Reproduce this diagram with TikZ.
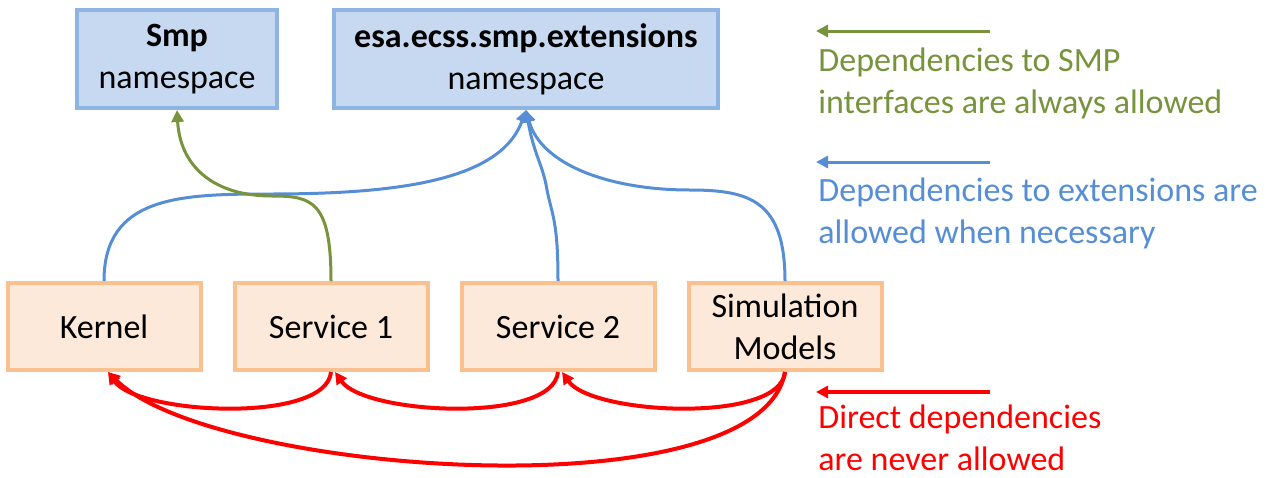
\documentclass[tikz,border=0pt]{standalone}
\usepackage{fontspec}
\setmainfont{Carlito}
\usetikzlibrary{positioning, arrows.meta}

\definecolor{nsfill}{HTML}{C6D9F1}
\definecolor{nsdraw}{HTML}{8EB4E3}
\definecolor{compfill}{HTML}{FDE9D9}
\definecolor{compdraw}{HTML}{FAC090}
\definecolor{smpgreen}{HTML}{77933C}
\definecolor{extblue}{HTML}{558ED5}
\definecolor{badred}{HTML}{FF0000}

\begin{document}
\begin{tikzpicture}[
    x=0.5pt, y=-0.5pt,
    >={Triangle[length=6pt, width=6pt]},
    node distance=113.5pt,
    on grid,
    font=\fontsize{17}{21}\selectfont,
    nsbox/.style={
        draw=nsdraw,
        fill=nsfill,
        line width=2pt,
        align=center,
        minimum height=49pt
    },
    compbox/.style={
        draw=compdraw,
        fill=compfill,
        line width=2pt,
        align=center,
        minimum width=96.5pt,
        minimum height=43.5pt
    },
    dep/.style={->, line width=1.5pt},
    legend/.style={anchor=base west, inner sep=0pt, align=left}
]
\useasboundingbox (0,0) rectangle (1274,477);

% namespaces
\node[nsbox, minimum width=100pt] (smp) at (177,59) {\textbf{Smp}\\namespace};
\node[nsbox, minimum width=192pt] (ext) at (526,59) {\textbf{esa.ecss.smp.extensions}\\namespace};

% components
\node[compbox] (kern) at (104,326.5) {Kernel};
\node[compbox, right=of kern] (serv1) {Service 1};
\node[compbox, right=of serv1] (serv2) {Service 2};
\node[compbox, right=of serv2] (simmod) {Simulation\\Models};

% allowed dependencies
\draw[dep, extblue] (kern.north) .. controls +(0,-85) and +(-90,0) .. (270,194)
    .. controls +(130,0) and +(-25,70) .. (ext.south);
\draw[dep, extblue] (serv2.north) .. controls +(0,-60) and +(5,25) .. (547,190)
    .. controls +(-4,-25) and +(8,45) .. (ext.south);
\draw[dep, extblue] (simmod.north) .. controls +(0,-80) and +(60,0) .. (690,190)
    .. controls +(-80,0) and +(15,55) .. (ext.south);
\draw[dep, smpgreen] (serv1.north) .. controls +(0,-80) and +(40,0) .. (272,196)
    .. controls +(-60,0) and +(3,55) .. (smp.south);

% forbidden dependencies
\begin{scope}[dep/.append style={line width=2pt}]
\draw[dep, badred] (simmod.south) to[out=-95, in=-55, looseness=0.6] ([xshift=2pt]serv2.south);
\draw[dep, badred] (serv2.south) to[out=-95, in=-55, looseness=0.6] ([xshift=2pt]serv1.south);
\draw[dep, badred] (serv1.south) to[out=-95, in=-55, looseness=0.6] ([xshift=2pt]kern.south);
\draw[dep, badred] (simmod.south) to[out=-100, in=-45, looseness=0.55] ([xshift=2pt]kern.south);
\end{scope}

% legend
\coordinate (gA) at (990,31);  \coordinate (gB) at (816,31);
\coordinate (bA) at (990,162); \coordinate (bB) at (816,162);
\coordinate (rA) at (990,392); \coordinate (rB) at (816,392);
\draw[dep, smpgreen] (gA) -- (gB);
\draw[dep, extblue] (bA) -- (bB);
\draw[dep, badred, line width=2pt] (rA) -- (rB);
\node[legend, text=smpgreen] (gtext) at (818,113) {Dependencies to SMP\\interfaces are always allowed};
\node[legend, text=extblue] (btext) at (818,243) {Dependencies to extensions are\\allowed when necessary};
\node[legend, text=badred] (rtext) at (818,470) {Direct dependencies\\are never allowed};
\end{tikzpicture}
\end{document}
